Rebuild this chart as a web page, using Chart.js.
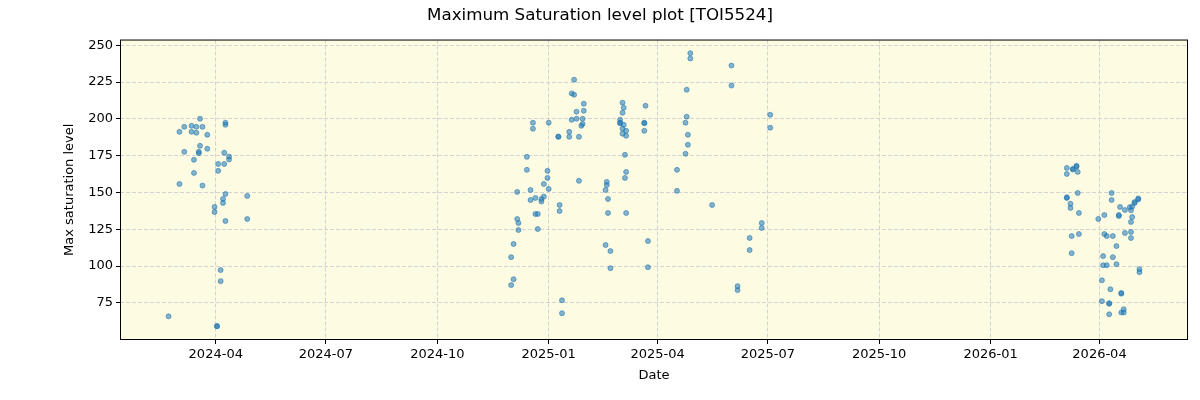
<!DOCTYPE html>
<html>
<head>
<meta charset="utf-8">
<script src="https://cdn.jsdelivr.net/npm/chart.js@4.4.1/dist/chart.umd.min.js"></script>
<style>
    html, body { margin: 0; padding: 0; background: #fff; }
    #wrap { width: 1200px; height: 400px; }
</style>
</head>
<body>
<div id="wrap"><canvas id="satChart" width="1200" height="400"></canvas></div>
<script>
var obsDates = [
    '2024-02-22', '2024-03-02', '2024-03-02', '2024-03-06', '2024-03-06', '2024-03-12', '2024-03-12',
    '2024-03-14', '2024-03-14', '2024-03-16', '2024-03-16', '2024-03-18', '2024-03-18', '2024-03-19',
    '2024-03-19', '2024-03-21', '2024-03-21', '2024-03-25', '2024-03-25', '2024-03-31', '2024-03-31',
    '2024-04-02', '2024-04-02', '2024-04-03', '2024-04-03', '2024-04-05', '2024-04-05', '2024-04-07',
    '2024-04-07', '2024-04-08', '2024-04-08', '2024-04-09', '2024-04-09', '2024-04-09', '2024-04-09',
    '2024-04-12', '2024-04-12', '2024-04-27', '2024-04-27',
    '2024-12-01', '2024-12-01', '2024-12-03', '2024-12-03', '2024-12-06', '2024-12-06', '2024-12-07',
    '2024-12-07', '2024-12-14', '2024-12-14', '2024-12-17', '2024-12-17', '2024-12-19', '2024-12-19',
    '2024-12-21', '2024-12-21', '2024-12-23', '2024-12-23', '2024-12-26', '2024-12-26', '2024-12-28',
    '2024-12-28', '2024-12-31', '2024-12-31', '2025-01-01', '2025-01-01', '2025-01-09', '2025-01-09',
    '2025-01-10', '2025-01-10', '2025-01-12', '2025-01-12', '2025-01-18', '2025-01-18', '2025-01-20',
    '2025-01-20', '2025-01-22', '2025-01-22', '2025-01-24', '2025-01-24', '2025-01-26', '2025-01-26',
    '2025-01-28', '2025-01-29', '2025-01-29', '2025-01-30', '2025-01-30', '2025-02-17', '2025-02-17',
    '2025-02-18', '2025-02-18', '2025-02-19', '2025-02-19', '2025-02-21', '2025-02-21', '2025-03-01',
    '2025-03-01', '2025-03-01', '2025-03-03', '2025-03-03', '2025-03-03', '2025-03-03', '2025-03-04',
    '2025-03-04', '2025-03-05', '2025-03-05', '2025-03-06', '2025-03-06', '2025-03-06', '2025-03-06',
    '2025-03-22', '2025-03-21', '2025-03-21', '2025-03-21', '2025-03-24', '2025-03-24', '2025-04-17',
    '2025-04-17', '2025-04-24', '2025-04-24', '2025-04-25', '2025-04-25', '2025-04-26', '2025-04-26',
    '2025-04-28', '2025-04-28', '2025-05-16', '2025-06-01', '2025-06-01', '2025-06-06', '2025-06-06',
    '2025-06-16', '2025-06-16', '2025-06-26', '2025-06-26', '2025-07-03', '2025-07-03',
    '2026-03-05', '2026-03-05', '2026-03-05', '2026-03-05', '2026-03-08', '2026-03-08', '2026-03-09',
    '2026-03-09', '2026-03-10', '2026-03-10', '2026-03-13', '2026-03-13', '2026-03-14', '2026-03-14',
    '2026-03-15', '2026-03-15', '2026-03-31', '2026-04-03', '2026-04-03', '2026-04-04', '2026-04-04',
    '2026-04-05', '2026-04-05', '2026-04-07', '2026-04-07', '2026-04-09', '2026-04-09', '2026-04-09',
    '2026-04-10', '2026-04-11', '2026-04-11', '2026-04-12', '2026-04-12', '2026-04-15', '2026-04-15',
    '2026-04-17', '2026-04-17', '2026-04-18', '2026-04-19', '2026-04-19', '2026-04-19', '2026-04-21',
    '2026-04-21', '2026-04-22', '2026-04-22', '2026-04-26', '2026-04-27', '2026-04-27', '2026-04-27',
    '2026-04-27', '2026-04-28', '2026-04-28', '2026-04-30', '2026-04-30', '2026-05-03', '2026-05-03',
    '2026-05-04', '2026-05-04'
];

var maxSat = [
    65.9, 191.2, 155.8, 194.6, 177.6, 195.3, 191.2,
    172.2, 163.3, 194.6, 190.6, 177.6, 176.7, 200.1,
    181.7, 194.6, 154.7, 189.2, 179.7, 140.2, 136.8,
    59.1, 59.3, 169.4, 164.7, 97.3, 89.8, 145.6,
    142.9, 177.0, 169.4, 197.4, 196.0, 149.0, 130.6,
    174.4, 172.4, 147.7, 132.0,
    106.1, 87.1, 115.0, 91.1, 150.4, 132.0, 129.3,
    124.5, 174.2, 165.4, 151.7, 144.9, 197.4, 193.3,
    146.3, 135.4, 135.4, 125.2, 145.5, 143.9, 155.8,
    147.2, 164.7, 159.9, 197.4, 152.4, 187.8, 188.0,
    141.5, 137.4, 76.8, 68.0, 191.2, 187.8, 217.3,
    199.4, 226.6, 216.4, 204.9, 200.1, 187.8, 157.9,
    195.3, 196.5, 200.1, 210.3, 205.5, 151.7, 114.3,
    157.2, 155.1, 145.6, 136.1, 110.2, 98.6, 199.4,
    197.4, 197.0, 211.0, 204.2, 193.3, 189.9, 207.6,
    196.0, 175.6, 159.9, 191.9, 188.5, 164.0, 136.1,
    208.9, 197.4, 197.0, 191.9, 117.0, 99.3, 165.4,
    151.1, 197.4, 176.3, 219.8, 201.5, 189.2, 182.4,
    244.6, 241.0, 141.5, 236.2, 222.6, 86.4, 83.7,
    119.1, 110.9, 129.3, 125.9, 202.8, 194.0,
    166.7, 162.6, 146.3, 146.8, 142.4, 139.5, 120.4,
    108.8, 165.6, 166.0, 168.1, 167.5, 164.0, 149.7,
    136.1, 121.8, 132.0, 90.4, 76.2, 106.8, 100.6,
    134.7, 121.8, 120.4, 100.6, 74.8, 74.4, 67.3,
    84.3, 149.7, 144.9, 120.4, 106.1, 113.6, 101.3,
    134.0, 134.8, 140.2, 81.3, 81.8, 68.5, 70.7,
    68.5, 138.1, 122.5, 140.0, 123.2, 119.1, 130.0,
    138.0, 140.5, 133.3, 142.9, 143.5, 145.3, 146.0,
    97.9, 95.9
];

var xTickDates = ['2024-04-01', '2024-07-01', '2024-10-01', '2025-01-01', '2025-04-01',
    '2025-07-01', '2025-10-01', '2026-01-01', '2026-04-01'];
var yTicks = [75, 100, 125, 150, 175, 200, 225, 250];

var toMs = (s) => {
    var p = s.split('-');
    return Date.UTC(+p[0], +p[1] - 1, +p[2]);
};

var points = obsDates.map((d, i) => ({ x: toMs(d), y: maxSat[i] }));

// 5% margins like matplotlib
var xs = points.map(p => p.x), ys = points.map(p => p.y);
var xMin = Math.min(...xs), xMax = Math.max(...xs);
var yMin = Math.min(...ys), yMax = Math.max(...ys);
var xPad = (xMax - xMin) * 0.05, yPad = (yMax - yMin) * 0.05;

var fmtMonth = (v) => {
    var d = new Date(v);
    var m = d.getUTCMonth() + 1;
    return d.getUTCFullYear() + '-' + (m < 10 ? '0' + m : m);
};

var plotFrame = {
    id: 'plotFrame',
    beforeDraw(chart) {
        var a = chart.chartArea, ctx = chart.ctx;
        ctx.save();
        ctx.fillStyle = '#ffffff';
        ctx.fillRect(0, 0, chart.width, chart.height);
        ctx.fillStyle = '#fdfbe2';
        ctx.fillRect(a.left, a.top, a.right - a.left, a.bottom - a.top);
        ctx.restore();
    },
    afterDraw(chart) {
        var a = chart.chartArea, ctx = chart.ctx;
        ctx.save();
        ctx.strokeStyle = '#000';
        ctx.lineWidth = 1;
        ctx.strokeRect(a.left + 0.5, a.top + 0.5, a.right - a.left - 1, a.bottom - a.top - 1);
        ctx.restore();
    }
};

var font = 'DejaVu Sans';

new Chart(document.getElementById('satChart').getContext('2d'), {
    type: 'scatter',
    data: {
        datasets: [{
            label: 'Max saturation level',
            data: points,
            backgroundColor: 'rgba(31, 119, 180, 0.55)',
            borderColor: 'rgba(31, 119, 180, 0.55)',
            borderWidth: 1,
            pointRadius: 2.5,
            pointHoverRadius: 2.5
        }]
    },
    options: {
        responsive: false,
        animation: false,
        events: [],
        layout: {
            padding: { left: 12, right: 12, top: 0, bottom: 0 }
        },
        plugins: {
            legend: { display: false },
            tooltip: { enabled: false },
            title: {
                display: true,
                text: 'Maximum Saturation level plot [TOI5524]',
                color: '#000',
                font: { family: font, size: 16.7, weight: 'normal' },
                padding: { top: 6, bottom: 13.5 }
            }
        },
        scales: {
            x: {
                type: 'linear',
                min: xMin - xPad,
                max: xMax + xPad,
                afterBuildTicks: (scale) => {
                    scale.ticks = xTickDates.map(d => ({ value: toMs(d) }));
                },
                afterFit: (scale) => { scale.height = 60; },
                ticks: {
                    callback: (v) => fmtMonth(v),
                    color: '#000',
                    font: { family: font, size: 13 },
                    padding: 3,
                    maxRotation: 0,
                    autoSkip: false
                },
                grid: {
                    color: '#d3d3d3',
                    lineWidth: 1,
                    tickLength: 4,
                    tickColor: '#000',
                    tickBorderDash: [],
                    tickWidth: 1
                },
                border: { display: false, dash: [4, 2] },
                title: {
                    display: true,
                    text: 'Date',
                    color: '#000',
                    font: { family: font, size: 13 },
                    padding: { top: 0, bottom: 17 }
                }
            },
            y: {
                type: 'linear',
                min: yMin - yPad,
                max: yMax + yPad,
                afterBuildTicks: (scale) => {
                    scale.ticks = yTicks.map(v => ({ value: v }));
                },
                afterFit: (scale) => { scale.width = 108; },
                ticks: {
                    color: '#000',
                    font: { family: font, size: 13 },
                    padding: 3
                },
                grid: {
                    color: '#d3d3d3',
                    lineWidth: 1,
                    tickLength: 4,
                    tickColor: '#000',
                    tickBorderDash: [],
                    tickWidth: 1
                },
                border: { display: false, dash: [4, 2] },
                title: {
                    display: true,
                    text: 'Max saturation level',
                    color: '#000',
                    font: { family: font, size: 13 },
                    padding: { top: 50, bottom: 0 }
                }
            }
        }
    },
    plugins: [plotFrame]
});
</script>
</body>
</html>
